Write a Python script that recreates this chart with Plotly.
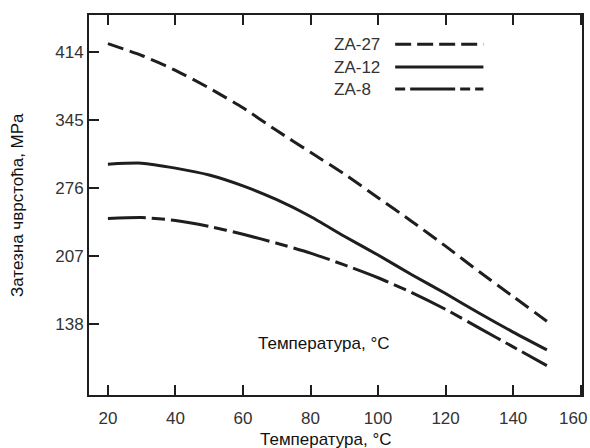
import plotly.graph_objects as go

# Data
temperature = [20, 30, 40, 50, 60, 70, 80, 90, 100, 110, 120, 130, 140, 150]
za27 = [422, 410, 395, 377, 357, 334, 312, 290, 266, 242, 217, 191, 166, 141]
za12 = [300, 301, 296, 289, 278, 264, 247, 227, 208, 188, 169, 149, 130, 112]
za8 = [245, 246, 243, 237, 229, 220, 210, 198, 185, 170, 153, 134, 115, 96]

series_names = ["ZA-27", "ZA-12", "ZA-8"]
x_ticks = [20, 40, 60, 80, 100, 120, 140, 160]
y_ticks = [138, 207, 276, 345, 414]
x_title = "Температура, °C"
y_title = "Затезна чврстоћа, MPa"

line_color = "#1e1e1e"
text_color = "#333333"
font_family = "Liberation Sans, Arial, sans-serif"

dashes = ["16px,7px", "solid", "38px,6px,13px,6px"]
legend_dashes = ["16px,6px", "solid", "10px,5px,45px,5px"]

fig = go.Figure()
for name, ys, dash in zip(series_names, [za27, za12, za8], dashes):
    fig.add_trace(go.Scatter(
        x=temperature, y=ys, mode="lines", name=name,
        line=dict(color=line_color, width=3, dash=dash, shape="spline", smoothing=0.6),
        showlegend=False,
    ))

# Legend drawn as text + sample lines (text on the left, sample on the right)
legend_y = [0.923, 0.863, 0.805]
for name, ly, dash in zip(series_names, legend_y, legend_dashes):
    fig.add_annotation(
        x=0.493, y=ly, xref="paper", yref="paper", text=name, showarrow=False,
        xanchor="left", yanchor="middle",
        font=dict(family=font_family, size=17, color=text_color),
    )
    fig.add_shape(
        type="line", xref="paper", yref="paper",
        x0=0.621, x1=0.80, y0=ly, y1=ly,
        line=dict(color=line_color, width=3, dash=dash),
    )

# Text label inside the plot
fig.add_annotation(
    x=0.475, y=0.135, xref="paper", yref="paper", text=x_title,
    showarrow=False, xanchor="center", yanchor="middle",
    font=dict(family=font_family, size=17, color="#111111"),
)
# Axis titles
fig.add_annotation(
    x=0.48, y=-0.117, xref="paper", yref="paper", text=x_title,
    showarrow=False, xanchor="center", yanchor="middle",
    font=dict(family=font_family, size=17, color="#111111"),
)
fig.add_annotation(
    x=-0.146, y=0.50, xref="paper", yref="paper", text=y_title, textangle=-90,
    showarrow=False, xanchor="center", yanchor="middle",
    font=dict(family=font_family, size=17, color="#111111"),
)
# last x tick label, nudged inside the page as in the reference
fig.add_annotation(
    x=x_ticks[-1], y=-0.061, xref="x", yref="paper", text=str(x_ticks[-1]),
    showarrow=False, xanchor="center", yanchor="middle", xshift=-8,
    font=dict(family=font_family, size=17, color=text_color),
)

fig.update_layout(
    width=590, height=448,
    margin=dict(l=89, r=8, t=15, b=53, autoexpand=False),
    paper_bgcolor="white", plot_bgcolor="white",
    font=dict(family=font_family, size=16, color=text_color),
)

fig.update_xaxes(
    range=[14.4, 160.4], tickvals=x_ticks,
    ticktext=[str(v) for v in x_ticks[:-1]] + [""],
    ticks="inside", ticklen=10, tickwidth=2, tickcolor=line_color,
    showline=True, linewidth=2, linecolor=line_color, mirror="ticks",
    showgrid=False, zeroline=False, ticklabelstandoff=7,
    tickfont=dict(family=font_family, size=17, color=text_color),
)
fig.update_yaxes(
    range=[66.3, 451], tickvals=y_ticks, ticktext=[str(v) for v in y_ticks],
    ticks="inside", ticklen=10, tickwidth=2, tickcolor=line_color,
    showline=True, linewidth=2, linecolor=line_color, mirror=True,
    showgrid=False, zeroline=False, ticklabelstandoff=0,
    tickfont=dict(family=font_family, size=17, color=text_color),
)

fig.write_html("out.html")
